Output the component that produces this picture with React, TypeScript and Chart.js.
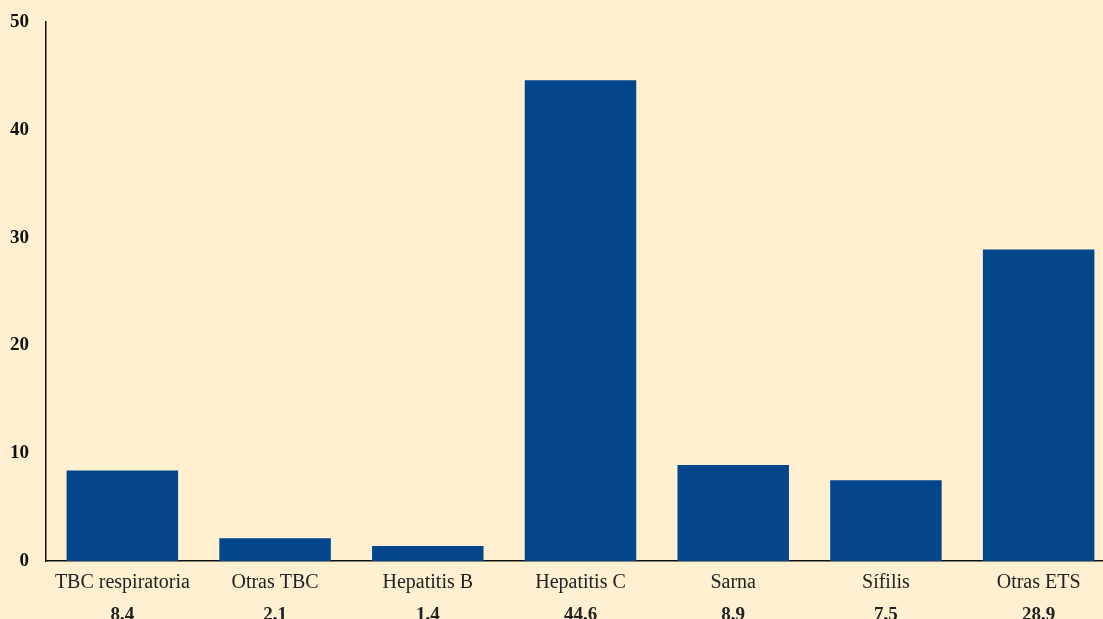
import React, { useEffect, useRef } from "react";
import { Chart, registerables } from "chart.js";

Chart.register(...registerables);

const categories = [
  "TBC respiratoria",
  "Otras TBC",
  "Hepatitis B",
  "Hepatitis C",
  "Sarna",
  "Sífilis",
  "Otras ETS",
];
const values = [8.4, 2.1, 1.4, 44.6, 8.9, 7.5, 28.9];
const valueLabels = ["8,4", "2,1", "1,4", "44,6", "8,9", "7,5", "28,9"];
const yTicks = [0, 10, 20, 30, 40, 50];

const BG = "#FEF0D1";
const BAR = "#03468C";
const FONT = "'Liberation Serif', 'Times New Roman', serif";

const valuePlugin = {
  id: "valueLabels",
  afterDraw(chart: any) {
    const { ctx, chartArea } = chart;
    const xs = chart.scales.x;
    ctx.save();
    ctx.fillStyle = "#222";
    ctx.font = `bold 19px ${FONT}`;
    ctx.textAlign = "center";
    ctx.textBaseline = "middle";
    valueLabels.forEach((t, i) => {
      ctx.fillText(t, xs.getPixelForValue(i), chartArea.bottom + 54);
    });
    ctx.restore();
  },
};

export default function App() {
  const ref = useRef<HTMLCanvasElement | null>(null);
  useEffect(() => {
    if (!ref.current) return;
    const chart = new Chart(ref.current, {
      type: "bar",
      data: {
        labels: categories,
        datasets: [
          {
            data: values,
            backgroundColor: BAR,
            borderWidth: 0,
            barPercentage: 0.73,
            categoryPercentage: 1,
          },
        ],
      },
      options: {
        animation: false,
        responsive: false,
        maintainAspectRatio: false,
        layout: { padding: { top: 22, left: 0, right: 0, bottom: 0 } },
        plugins: {
          legend: { display: false },
          tooltip: { enabled: false },
        },
        scales: {
          x: {
            grid: { display: false, drawTicks: false },
            border: { display: true, color: "#111", width: 1.5 },
            ticks: {
              color: "#222",
              font: { family: FONT, size: 20 },
              padding: 10,
              maxRotation: 0,
              autoSkip: false,
            },
            afterFit(scale: any) {
              scale.height = 79;
            },
          },
          y: {
            min: 0,
            max: 50,
            afterBuildTicks(scale: any) {
              scale.ticks = yTicks.map((v) => ({ value: v }));
            },
            grid: { display: false, drawTicks: false },
            border: { display: true, color: "#111", width: 1.5 },
            ticks: {
              color: "#111",
              font: { family: FONT, size: 19, weight: "bold" },
              padding: 17,
            },
            afterFit(scale: any) {
              scale.width = 46;
              scale.paddingTop = 0;
              scale.paddingBottom = 0;
            },
          },
        },
      },
      plugins: [valuePlugin],
    });
    return () => chart.destroy();
  }, []);
  return (
    <div
      style={{
        position: "absolute",
        left: 0,
        top: 0,
        width: 1103,
        height: 619,
        overflow: "hidden",
        background: BG,
      }}
    >
      <canvas ref={ref} width={1115} height={640} style={{ display: "block" }} />
    </div>
  );
}
